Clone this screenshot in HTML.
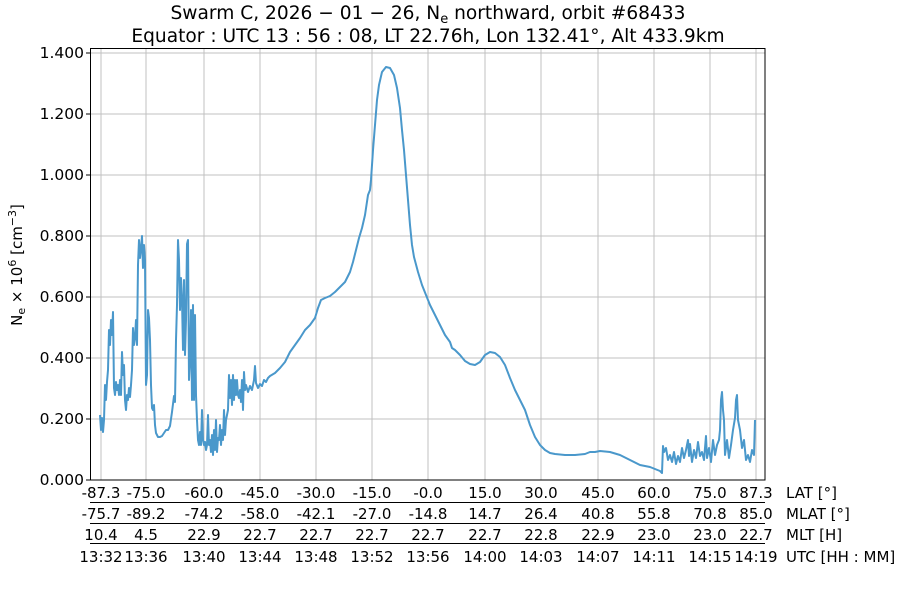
<!DOCTYPE html>
<html><head><meta charset="utf-8"><style>
html,body{margin:0;padding:0;background:#fff;}
svg text{font-family:"DejaVu Sans","Liberation Sans",sans-serif;fill:#000;}
</style></head><body>
<svg width="900" height="600" viewBox="0 0 900 600" xmlns="http://www.w3.org/2000/svg">
<g stroke="#c0c0c0" stroke-width="1">
<line x1="101" y1="48" x2="101" y2="480"/><line x1="146" y1="48" x2="146" y2="480"/><line x1="204" y1="48" x2="204" y2="480"/><line x1="260" y1="48" x2="260" y2="480"/><line x1="316" y1="48" x2="316" y2="480"/><line x1="372" y1="48" x2="372" y2="480"/><line x1="428" y1="48" x2="428" y2="480"/><line x1="485" y1="48" x2="485" y2="480"/><line x1="541" y1="48" x2="541" y2="480"/><line x1="598" y1="48" x2="598" y2="480"/><line x1="654" y1="48" x2="654" y2="480"/><line x1="710" y1="48" x2="710" y2="480"/><line x1="756" y1="48" x2="756" y2="480"/>
<line x1="90" y1="419" x2="765" y2="419"/><line x1="90" y1="358" x2="765" y2="358"/><line x1="90" y1="297" x2="765" y2="297"/><line x1="90" y1="236" x2="765" y2="236"/><line x1="90" y1="175" x2="765" y2="175"/><line x1="90" y1="114" x2="765" y2="114"/><line x1="90" y1="53" x2="765" y2="53"/>
</g>
<polyline fill="none" stroke="#4a98cb" stroke-width="2" stroke-linejoin="round" points="100,415 101,430 102,418 103,432 104,420 105,385 106,400 107,382 108,370 109,330 110,345 111,320 112,335 113,312 114,388 115,395 116,382 117,390 118,385 119,395 120,380 121,395 122,352 123,375 124,365 125,400 126,410 127,395 128,400 129,388 130,397 131,385 132,370 133,328 134,345 135,338 136,320 137,345 138,265 139,240 140,258 141,248 142,236 143,268 144,245 145,260 146,385 147,375 148,310 149,318 150,340 151,385 152,408 153,410 154,405 155,425 156,433 158,437 160,437 162,436 164,433 166,430 168,430 170,426 172,412 174,396 175,402 176,340 177,305 178,240 179,260 180,310 181,278 182,300 183,350 184,280 185,355 186,320 187,244 188,240 189,380 190,360 191,310 192,400 193,305 194,400 195,315 196,395 197,420 198,440 199,445 200,432 201,445 202,410 203,440 204,445 205,442 206,450 207,445 208,415 209,445 210,440 211,452 212,435 213,455 214,430 215,450 216,420 217,452 218,438 219,440 220,425 221,445 222,430 223,440 224,410 225,435 226,420 227,415 228,410 229,375 230,398 231,380 232,405 233,375 234,400 235,380 236,395 237,380 238,395 239,398 240,390 241,402 242,380 243,410 244,372 245,390 246,385 248,392 250,386 252,390 254,380 255,366 256,383 258,388 260,384 262,386 264,380 266,382 268,378 270,376 275,373 280,368 285,362 290,352 295,345 300,338 305,330 310,325 315,318 318,308 321,300 325,298 330,296 335,292 340,287 345,282 350,272 353,262 356,250 359,238 362,228 365,215 368,195 370,190 371,180 373,150 375,125 377,100 379,85 382,72 386,67 390,68 394,75 397,88 400,108 402,130 404,150 406,175 408,200 410,225 412,245 414,257 418,272 422,285 426,295 430,305 435,315 440,325 445,335 450,342 452,348 455,350 460,355 465,361 470,364 475,365 480,362 485,355 490,352 495,353 500,357 505,365 510,378 515,390 520,400 525,410 530,425 535,437 540,445 545,450 550,453 555,454 565,455 575,455 585,454 590,452 595,452 600,451 610,452 620,455 630,460 640,465 650,467 660,471 662,473 663,446 664,452 666,448 668,460 670,455 672,462 674,452 676,464 678,456 680,462 682,448 684,458 686,450 688,440 689,456 690,444 692,462 694,450 696,458 698,442 700,456 702,452 704,460 706,436 707,458 709,448 711,462 713,440 715,455 717,445 719,440 720,430 721,400 722,392 723,410 724,420 725,455 727,440 729,458 731,445 733,430 735,418 736,400 737,395 738,420 740,430 742,448 744,440 746,460 748,455 750,462 752,450 754,455 755,420"/>
<rect x="90.5" y="48.5" width="674.5" height="431.5" fill="none" stroke="#000" stroke-width="1"/>
<g stroke="#000" stroke-width="1">
<line x1="86" y1="480" x2="90" y2="480"/><line x1="86" y1="419" x2="90" y2="419"/><line x1="86" y1="358" x2="90" y2="358"/><line x1="86" y1="297" x2="90" y2="297"/><line x1="86" y1="236" x2="90" y2="236"/><line x1="86" y1="175" x2="90" y2="175"/><line x1="86" y1="114" x2="90" y2="114"/><line x1="86" y1="53" x2="90" y2="53"/>
<line x1="90" y1="502.5" x2="765" y2="502.5"/><line x1="90" y1="523.5" x2="765" y2="523.5"/><line x1="90" y1="543.5" x2="765" y2="543.5"/>
</g>
<g font-size="15.5" text-anchor="end">
<text x="84" y="485">0.000</text><text x="84" y="424">0.200</text><text x="84" y="363">0.400</text><text x="84" y="302">0.600</text><text x="84" y="241">0.800</text><text x="84" y="180">1.000</text><text x="84" y="119">1.200</text><text x="84" y="58">1.400</text>
</g>
<g font-size="15" text-anchor="middle">
<text x="101" y="498">-87.3</text><text x="146" y="498">-75.0</text><text x="204" y="498">-60.0</text><text x="260" y="498">-45.0</text><text x="316" y="498">-30.0</text><text x="372" y="498">-15.0</text><text x="428" y="498">-0.0</text><text x="485" y="498">15.0</text><text x="541" y="498">30.0</text><text x="598" y="498">45.0</text><text x="654" y="498">60.0</text><text x="710" y="498">75.0</text><text x="756" y="498">87.3</text>
<text x="101" y="519">-75.7</text><text x="146" y="519">-89.2</text><text x="204" y="519">-74.2</text><text x="260" y="519">-58.0</text><text x="316" y="519">-42.1</text><text x="372" y="519">-27.0</text><text x="428" y="519">-14.8</text><text x="485" y="519">14.7</text><text x="541" y="519">26.4</text><text x="598" y="519">40.8</text><text x="654" y="519">55.8</text><text x="710" y="519">70.8</text><text x="756" y="519">85.0</text>
<text x="101" y="540">10.4</text><text x="146" y="540">4.5</text><text x="204" y="540">22.9</text><text x="260" y="540">22.7</text><text x="316" y="540">22.7</text><text x="372" y="540">22.7</text><text x="428" y="540">22.7</text><text x="485" y="540">22.7</text><text x="541" y="540">22.8</text><text x="598" y="540">22.9</text><text x="654" y="540">23.0</text><text x="710" y="540">23.0</text><text x="756" y="540">22.7</text>
<text x="101" y="562">13:32</text><text x="146" y="562">13:36</text><text x="204" y="562">13:40</text><text x="260" y="562">13:44</text><text x="316" y="562">13:48</text><text x="372" y="562">13:52</text><text x="428" y="562">13:56</text><text x="485" y="562">14:00</text><text x="541" y="562">14:03</text><text x="598" y="562">14:07</text><text x="654" y="562">14:11</text><text x="710" y="562">14:15</text><text x="756" y="562">14:19</text>
</g>
<g font-size="15">
<text x="786" y="498">LAT [°]</text><text x="786" y="519">MLAT [°]</text><text x="786" y="540">MLT [H]</text><text x="786" y="562">UTC [HH : MM]</text>
</g>
<text transform="translate(22,265) rotate(-90)" font-size="15" text-anchor="middle">N<tspan font-size="11" dy="3">e</tspan><tspan dy="-3"> × 10</tspan><tspan font-size="11" dy="-6">6</tspan><tspan dy="6"> [cm</tspan><tspan font-size="11" dy="-6">−3</tspan><tspan dy="6">]</tspan></text>
<g font-size="18.6" text-anchor="middle">
<text x="428" y="19">Swarm C,  2026 − 01 − 26,  N<tspan font-size="13" dy="4">e</tspan><tspan dy="-4"> northward,  orbit #68433</tspan></text>
<text x="428" y="42">Equator :  UTC 13 : 56 : 08,  LT 22.76h,  Lon 132.41°,  Alt 433.9km</text>
</g>
</svg>
</body></html>
